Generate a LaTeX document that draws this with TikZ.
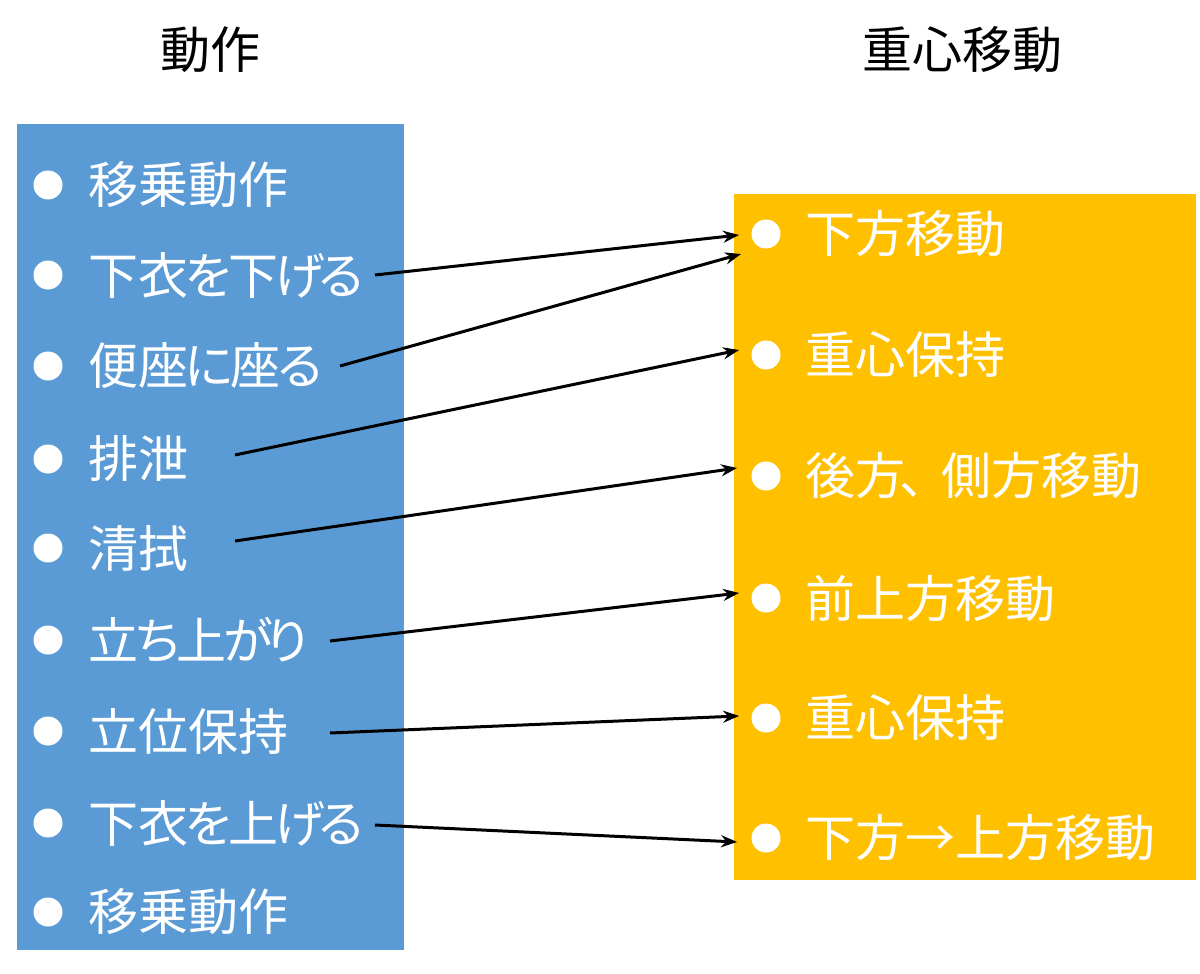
\documentclass[tikz,border=0pt]{standalone}
\usepackage{fontspec}
\setmainfont{Noto Sans CJK JP}[RawFeature=+palt]
\newfontfamily\cjkfull{Noto Sans CJK JP}
\usetikzlibrary{arrows.meta,calc}
\definecolor{boxblue}{HTML}{5B9BD5}
\definecolor{boxorange}{HTML}{FFC000}
\newcommand\kna[1]{\kern-1.5pt#1\kern-1.5pt}
\tikzset{
  item/.style={anchor=west, inner sep=0pt, text=white, font=\fontsize{25pt}{30pt}\selectfont},
  ritem/.style={item, font=\cjkfull\fontsize{25pt}{30pt}\selectfont},
  title/.style={inner sep=0pt, text=black, font=\cjkfull\fontsize{25pt}{30pt}\selectfont},
  dot/.style={circle, fill=white, inner sep=0pt, minimum size=14.5pt},
  arr/.style={draw=black, line width=1.5pt, -{Stealth[length=8pt,width=6pt]}}
}
\begin{document}
\begin{tikzpicture}[x=0.5pt,y=-0.5pt]
\useasboundingbox (0,0) rectangle (1200,974);
\fill[white] (0,0) rectangle (1200,974);
% titles
\node[title] (t1) at (210,50) {動作};
\node[title] (t2) at (962,50) {重心移動};
% boxes
\fill[boxblue] (17,124) rectangle (404,950);
\fill[boxorange] (734,194) rectangle (1196,880);
% left items
\foreach \i/\y/\t in {1/185/移乗動作,2/275/下衣\kna{を}下\kna{げ}\kna{る},3/366/便座\kna{に}座\kna{る},4/459/排泄,5/548/清拭,6/640/立\kna{ち}上\kna{が}\kna{り},7/731/立位保持,8/823/下衣\kna{を}上\kna{げ}\kna{る},9/912/移乗動作}{
  \node[dot] (lb\i) at (48,\y) {};
  \node[item] (l\i) at (88,\y) {\t};
}
% right items
\foreach \i/\y/\t in {1/234/下方移動,2/355/重心保持,3/476/後方\kern-3pt、\kern-4pt側方移動,4/598/前上方移動,5/718/重心保持,6/838/下方→上方移動}{
  \node[dot] (rb\i) at (766,\y) {};
  \node[ritem] (r\i) at (805,\y) {\t};
}
% arrows
\draw[arr] ($(lb2)+(327,0)$) -- ($(rb1.west)+(-12,1)$);
\draw[arr] ($(lb3)+(292,0)$) -- ($(rb1.west)+(-10,20)$);
\draw[arr] ($(lb4)+(187,-4)$) -- ($(rb2.west)+(-12,-5)$);
\draw[arr] ($(lb5)+(187,-7)$) -- ($(rb3.west)+(-14,-8)$);
\draw[arr] ($(lb6)+(282,1)$) -- ($(rb4.west)+(-12,-5)$);
\draw[arr] ($(lb7)+(282,2)$) -- ($(rb5.west)+(-12,-2)$);
\draw[arr] ($(lb8)+(327,2)$) -- ($(rb6.west)+(-14,4)$);
\end{tikzpicture}
\end{document}
